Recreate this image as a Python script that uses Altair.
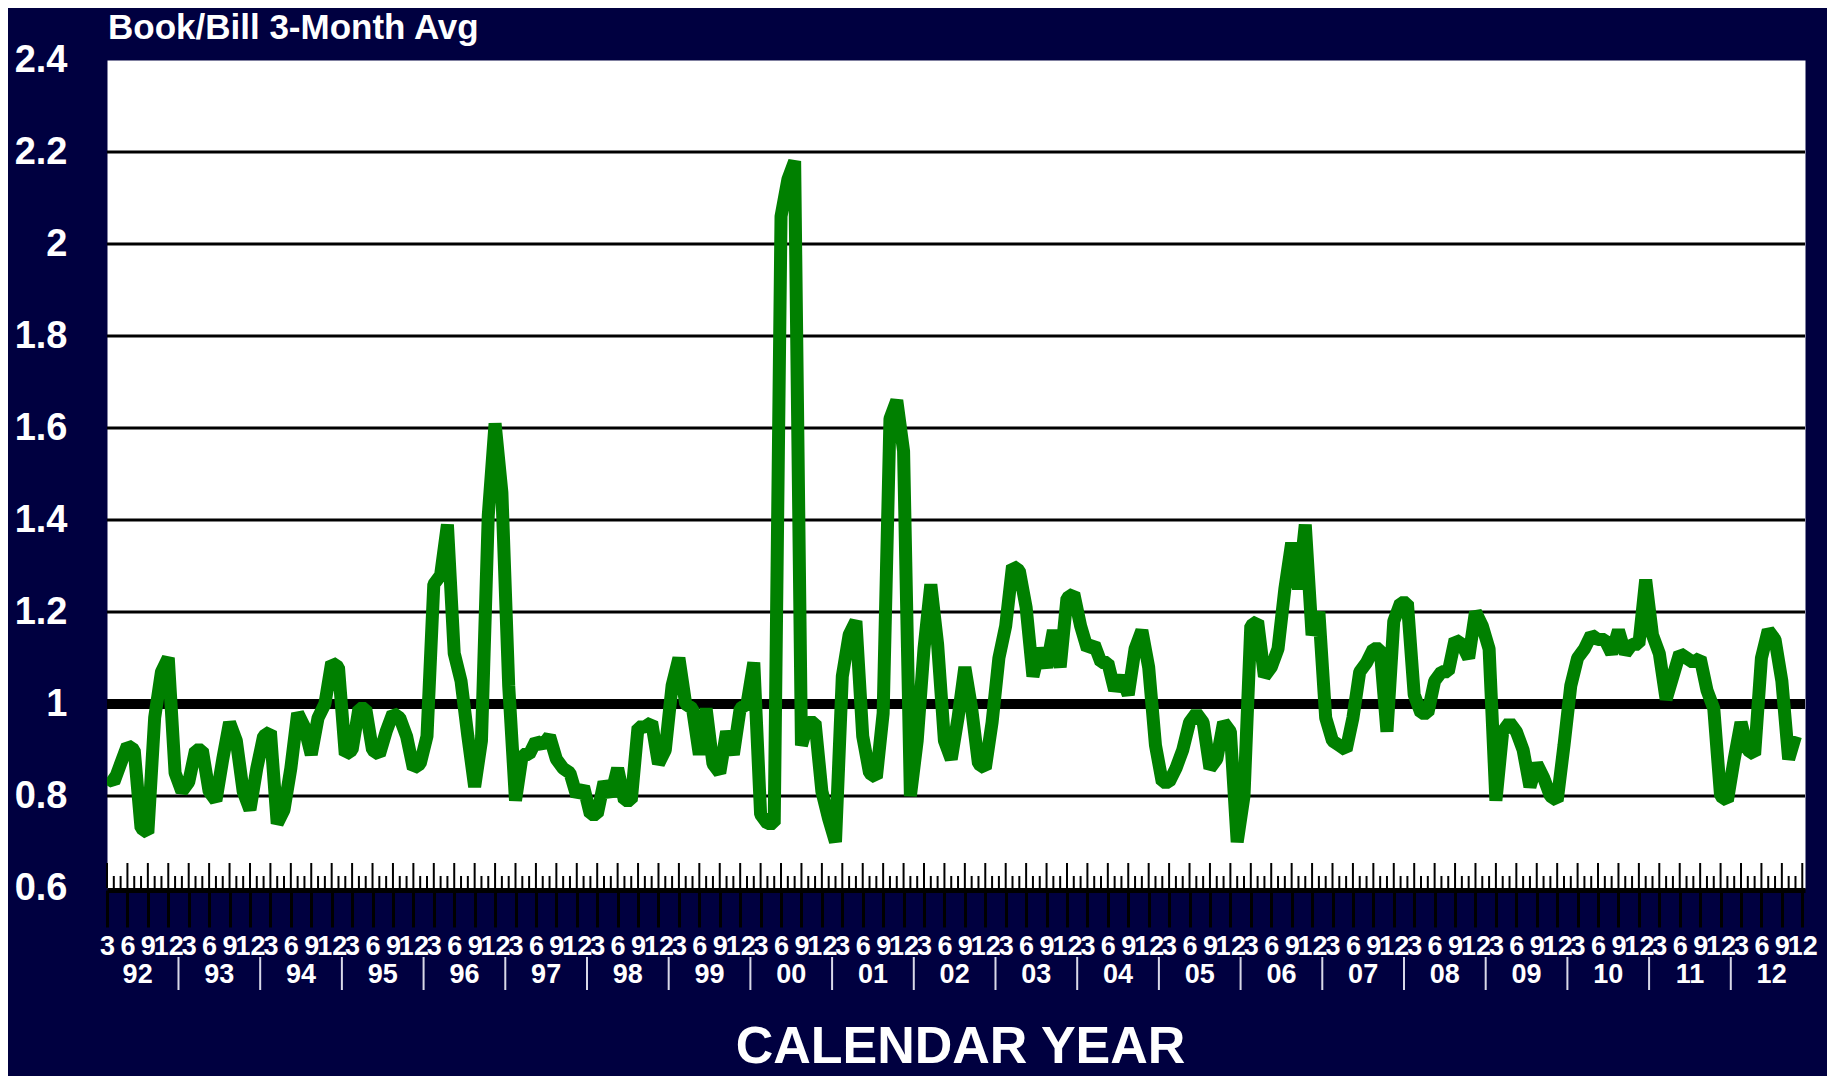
import altair as alt
import pandas as pd

# ---------------- data ----------------
title_text = "Book/Bill 3-Month Avg"
x_title = "CALENDAR YEAR"
# monthly values, index 0 = March 1992
book_bill = [
    0.84, 0.83, 0.87, 0.91, 0.90, 0.73, 0.72, 0.97, 1.07, 1.10,
    0.85, 0.81, 0.83, 0.90, 0.90, 0.81, 0.79, 0.88, 0.96, 0.92,
    0.81, 0.77, 0.86, 0.93, 0.94, 0.74, 0.77, 0.86, 0.98, 0.95,
    0.89, 0.97, 1.00, 1.09, 1.08, 0.89, 0.90, 0.99, 0.99, 0.90,
    0.89, 0.94, 0.98, 0.97, 0.93, 0.86, 0.87, 0.93, 1.26, 1.28,
    1.39, 1.11, 1.05, 0.93, 0.82, 0.92, 1.41, 1.61, 1.46, 1.04,
    0.79, 0.89, 0.89, 0.92, 0.91, 0.93, 0.88, 0.86, 0.85, 0.80,
    0.82, 0.76, 0.76, 0.83, 0.80, 0.86, 0.79, 0.79, 0.95, 0.95,
    0.96, 0.87, 0.90, 1.04, 1.10, 1.00, 0.99, 0.89, 0.99, 0.87,
    0.85, 0.94, 0.89, 0.99, 1.00, 1.09, 0.76, 0.74, 0.74, 2.06,
    2.14, 2.18, 0.91, 0.96, 0.96, 0.81, 0.75, 0.70, 1.06, 1.15,
    1.18, 0.93, 0.85, 0.84, 0.98, 1.62, 1.66, 1.55, 0.80, 0.92,
    1.12, 1.26, 1.13, 0.92, 0.88, 0.97, 1.08, 0.99, 0.87, 0.86,
    0.96, 1.10, 1.17, 1.30, 1.29, 1.21, 1.06, 1.12, 1.08, 1.16,
    1.08, 1.23, 1.24, 1.17, 1.12, 1.13, 1.09, 1.09, 1.03, 1.06,
    1.02, 1.12, 1.16, 1.08, 0.91, 0.83, 0.83, 0.86, 0.90, 0.96,
    0.98, 0.96, 0.86, 0.88, 0.96, 0.94, 0.70, 0.80, 1.17, 1.18,
    1.06, 1.08, 1.12, 1.25, 1.35, 1.25, 1.39, 1.15, 1.20, 0.97,
    0.92, 0.91, 0.90, 0.97, 1.07, 1.09, 1.12, 1.12, 0.94, 1.18,
    1.22, 1.22, 1.02, 0.98, 0.98, 1.05, 1.07, 1.07, 1.14, 1.13,
    1.10, 1.20, 1.17, 1.12, 0.79, 0.94, 0.96, 0.94, 0.90, 0.82,
    0.87, 0.84, 0.80, 0.79, 0.91, 1.04, 1.10, 1.12, 1.15, 1.14,
    1.14, 1.11, 1.16, 1.11, 1.13, 1.13, 1.27, 1.15, 1.11, 1.01,
    1.06, 1.11, 1.10, 1.09, 1.10, 1.03, 0.99, 0.80, 0.79, 0.88,
    0.96, 0.90, 0.89, 1.10, 1.16, 1.14, 1.05, 0.88, 0.93,
]
quarter_labels = ["3", "6", "9", "12"]
year_labels = [str(y)[2:] for y in range(1992, 2013)]
y_ticks = [0.6, 0.8, 1.0, 1.2, 1.4, 1.6, 1.8, 2.0, 2.2, 2.4]
grid_levels = [0.8, 1.2, 1.4, 1.6, 1.8, 2.0, 2.2]
ref_level = [1.0]
n_axis_months = 250  # March 1992 .. December 2012

# ---------------- layout ----------------
W, H = 1698, 828
FONT = "Liberation Sans, Arial, sans-serif"
NAVY = "#000040"
GREEN = "#008000"

df = pd.DataFrame({"m": list(range(len(book_bill))), "v": book_bill})
months = list(range(n_axis_months))
ticks_df = pd.DataFrame({"m": months, "long": [m % 3 == 0 for m in months]})
years_df = pd.DataFrame({"m": [4.5 + 12 * k for k in range(len(year_labels))],
                         "label": year_labels})
sep_df = pd.DataFrame({"m": [10.5 + 12 * k for k in range(len(year_labels) - 1)]})
grid_df = pd.DataFrame({"v": grid_levels})
ref_df = pd.DataFrame({"v": ref_level})

xscale = alt.Scale(domain=[0, 249.4], nice=False, zero=False)
yscale = alt.Scale(domain=[0.6, 2.4], nice=False, zero=False)

qexpr = "[" + ",".join("'%s'" % q for q in quarter_labels) + "][floor(datum.value / 3) % 4]"

x_axis = alt.Axis(
    values=list(range(0, n_axis_months, 3)),
    labelExpr=qexpr,
    labelOverlap=False,
    labelFlush=False,
    labelBound=False,
    labelFont=FONT,
    labelFontSize=27,
    labelFontWeight="bold",
    labelColor="white",
    labelBaseline="middle",
    labelPadding=19,
    tickSize=37,
    tickColor="black",
    tickWidth=3,
    domainColor="black",
    domainWidth=5,
    offset=2,
    grid=False,
    title=x_title,
    titleFont=FONT,
    titleFontSize=52,
    titleFontWeight="bold",
    titleColor="white",
    titleX=853,
    titleY=156,
    titleAlign="center",
    titleBaseline="middle",
)

y_axis = alt.Axis(
    values=y_ticks,
    labelExpr="format(datum.value, '~g')",
    labelFont=FONT,
    labelFontSize=38,
    labelFontWeight="bold",
    labelColor="white",
    labelPadding=40,
    ticks=False,
    tickSize=0,
    domain=False,
    grid=False,
    title="",
)

X = alt.X("m:Q", scale=xscale, axis=x_axis)
Y = alt.Y("v:Q", scale=yscale, axis=y_axis)

grid = alt.Chart(grid_df).mark_rule(color="black", strokeWidth=3).encode(y=Y)
ref = alt.Chart(ref_df).mark_rule(color="black", strokeWidth=10).encode(y=Y)
line = alt.Chart(df).mark_line(
    color=GREEN, strokeWidth=13, strokeJoin="bevel", strokeCap="butt", clip=True
).encode(x=X, y=Y)
long_ticks = alt.Chart(ticks_df).transform_filter("datum.long").mark_rule(
    color="black", strokeWidth=2
).encode(x=X, y=alt.value(H - 25), y2=alt.value(H))
short_ticks = alt.Chart(ticks_df).transform_filter("!datum.long").mark_rule(
    color="black", strokeWidth=2
).encode(x=X, y=alt.value(H - 12), y2=alt.value(H))
years = alt.Chart(years_df).mark_text(
    font=FONT, fontSize=27, fontWeight="bold", color="white",
    align="center", baseline="middle"
).encode(x=X, y=alt.value(915), text="label:N")
seps = alt.Chart(sep_df).mark_rule(color="#d8d8e8", strokeWidth=2).encode(
    x=X, y=alt.value(897), y2=alt.value(930)
)
top_title = alt.Chart(pd.DataFrame({"t": [title_text]})).mark_text(
    font=FONT, fontSize=35, fontWeight="bold", color="white",
    align="left", baseline="alphabetic"
).encode(x=alt.value(1), y=alt.value(-21), text="t:N")

chart = alt.layer(
    grid, ref, line, long_ticks, short_ticks, years, seps, top_title
).properties(
    width=W,
    height=H,
    padding={"left": 99, "top": 52, "right": 22, "bottom": 188},
    autosize=alt.AutoSizeParams(type="none"),
    background=NAVY,
).configure_view(stroke="transparent", fill="white")

chart.save("out.html", embed_options={"renderer": "svg", "actions": False})
